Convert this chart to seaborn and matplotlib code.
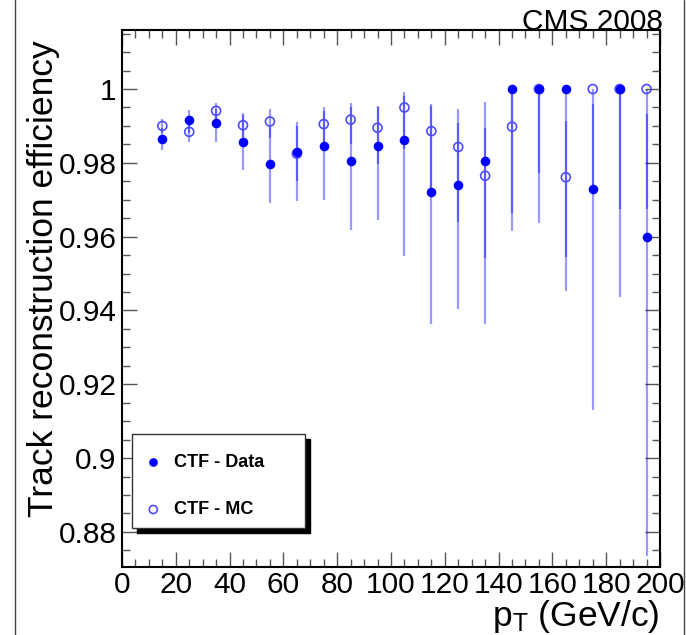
import numpy as np
import pandas as pd
import matplotlib
matplotlib.use('Agg')
import matplotlib.pyplot as plt
import seaborn as sns
from matplotlib.patches import Rectangle
from matplotlib.lines import Line2D
from matplotlib.ticker import MultipleLocator, FuncFormatter

# ---- data ----
pt = [15, 25, 35, 45, 55, 65, 75, 85, 95, 105, 115, 125, 135, 145, 155, 165, 175, 185, 195]

eff_data = [0.9865, 0.9916, 0.9909, 0.9857, 0.9798, 0.9829, 0.9845, 0.9806, 0.9846, 0.9862,
            0.9722, 0.9739, 0.9804, 1.0000, 1.0000, 1.0000, 0.9729, 1.0000, 0.9600]
data_lo = [0.9834, 0.9880, 0.9856, 0.9780, 0.9691, 0.9696, 0.9698, 0.9617, 0.9646, 0.9548,
           0.9364, 0.9405, 0.9541, 0.9664, 0.9637, 0.9546, 0.9131, 0.9437, 0.8735]
data_hi = [0.9895, 0.9943, 0.9945, 0.9930, 0.9900, 0.9900, 0.9940, 0.9950, 0.9950, 0.9980,
           0.9955, 0.9909, 0.9966, 1.0000, 1.0000, 1.0000, 0.9960, 1.0000, 0.9932]

eff_mc = [0.9900, 0.9884, 0.9941, 0.9902, 0.9912, 0.9825, 0.9905, 0.9917, 0.9895, 0.9950,
          0.9886, 0.9843, 0.9765, 0.9898, 1.0000, 0.9761, 1.0000, 1.0000, 1.0000]
mc_lo = [0.9880, 0.9856, 0.9920, 0.9870, 0.9868, 0.9750, 0.9840, 0.9850, 0.9796, 0.9837,
         0.9720, 0.9641, 0.9364, 0.9614, 0.9773, 0.9453, 0.9740, 0.9676, 0.9676]
mc_hi = [0.9920, 0.9910, 0.9961, 0.9934, 0.9947, 0.9911, 0.9950, 0.9962, 0.9953, 0.9991,
         0.9959, 0.9946, 0.9894, 0.9990, 1.0000, 0.9914, 1.0000, 1.0000, 1.0000]

y_ticks = [0.88, 0.90, 0.92, 0.94, 0.96, 0.98, 1.00]
x_ticks = [0, 20, 40, 60, 80, 100, 120, 140, 160, 180, 200]

# ---- style ----
sns.set_style('ticks')
plt.rcParams['font.family'] = ['Liberation Sans', 'DejaVu Sans']
plt.rcParams['mathtext.default'] = 'regular'
plt.rcParams['text.color'] = 'black'
plt.rcParams['axes.labelcolor'] = 'black'

fig = plt.figure(figsize=(6.86, 6.35), dpi=100)
ax = fig.add_axes([0.1778, 0.1071, 0.7843, 0.8457])

blue = '#0000ff'
ax.vlines(pt, mc_lo, mc_hi, color=blue, alpha=0.4, lw=1.6, zorder=2)
ax.vlines(pt, data_lo, data_hi, color=blue, alpha=0.4, lw=1.6, zorder=2)

df_data = pd.DataFrame({'pt': pt, 'eff': eff_data})
df_mc = pd.DataFrame({'pt': pt, 'eff': eff_mc})

sns.scatterplot(data=df_data, x='pt', y='eff', ax=ax, marker='o', s=48,
                color=blue, edgecolor=blue, linewidth=0, label='CTF - Data', zorder=4)
sns.scatterplot(data=df_mc, x='pt', y='eff', ax=ax, marker='o', s=42,
                facecolor='none', edgecolor=(0.3, 0.3, 1.0), linewidth=1.2,
                label='CTF - MC', zorder=3)

ax.set_xlim(0, 200)
ax.set_ylim(0.8705, 1.016)
ax.set_xticks(x_ticks)
ax.set_yticks(y_ticks)
ax.xaxis.set_minor_locator(MultipleLocator(5))
ax.yaxis.set_minor_locator(MultipleLocator(0.005))
ax.yaxis.set_major_formatter(FuncFormatter(lambda v, p: f'{round(v, 3):g}'))
ax.xaxis.set_major_formatter(FuncFormatter(lambda v, p: f'{v:g}'))

ax.tick_params(which='both', direction='in', top=True, right=True, color='#555555',
               width=1, labelcolor='black')
ax.tick_params(which='major', length=11, labelsize=21.5)
ax.tick_params(axis='y', which='major', pad=4)
ax.tick_params(axis='x', which='major', pad=3)
ax.tick_params(which='minor', length=5.5)
for s in ax.spines.values():
    s.set_linewidth(1.5)
    s.set_color('black')

ax.set_ylabel('Track reconstruction efficiency', fontsize=25.5, loc='top')
ax.yaxis.set_label_coords(-0.115, 0.981)
ax.set_xlabel('p$_{T}$ (GeV/c)', fontsize=25.5, loc='right')
ax.xaxis.set_label_coords(1.0, -0.058)

# legend box with shadow
ax.add_patch(Rectangle((0.0186 + 0.0093, 0.0726 - 0.0093), 0.3216, 0.175,
                       transform=ax.transAxes, facecolor='black', edgecolor='black', zorder=5))
ax.add_patch(Rectangle((0.0186, 0.0726), 0.3216, 0.175, transform=ax.transAxes,
                       facecolor='white', edgecolor='#333333', lw=1, zorder=6))
leg = ax.legend(loc='upper left', bbox_to_anchor=(0.0414, 0.2112), frameon=False,
                borderpad=0, borderaxespad=0, labelspacing=1.7, handlelength=1.0,
                handletextpad=0.67, markerscale=0.9,
                prop={'weight': 'bold', 'size': 13})
leg.set_zorder(7)

fig.text(663 / 686, (635 - 30) / 635, 'CMS 2008', ha='right', va='baseline', fontsize=21.5)

# canvas border lines
fig.add_artist(Line2D([15 / 686, 15 / 686], [0, 1], transform=fig.transFigure, color='#444444', lw=1))
fig.add_artist(Line2D([684 / 686, 684 / 686], [0, 1], transform=fig.transFigure, color='#444444', lw=1))

fig.savefig('out.png', dpi=100)
